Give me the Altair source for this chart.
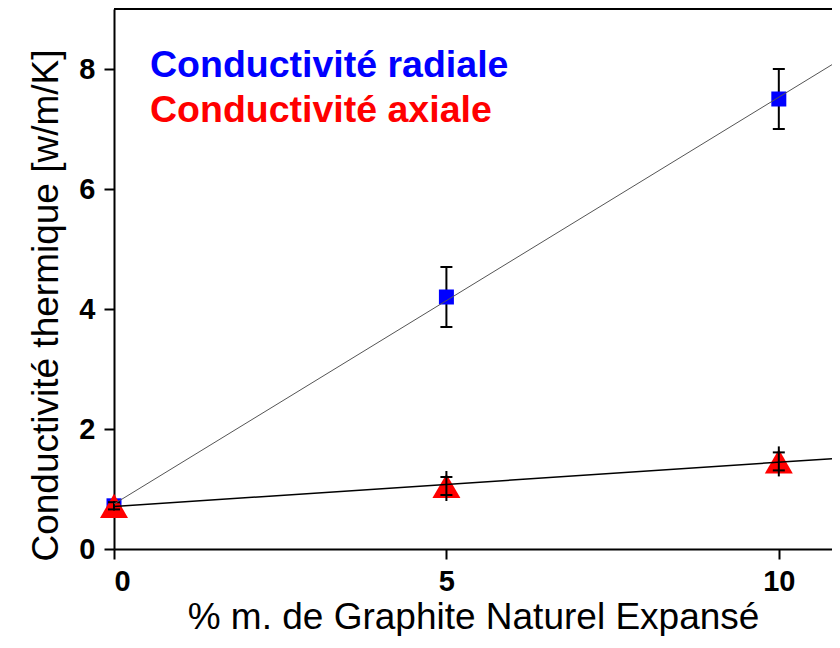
import altair as alt
import pandas as pd

# ---- data ----
x_vals = [0, 5, 10]
radial_y = [0.72, 4.2, 7.5]
radial_err = [0.05, 0.5, 0.5]
axial_y = [0.72, 1.05, 1.46]
axial_err_line = [0.08, 0.25, 0.25]
axial_err_cap = [0.06, 0.15, 0.15]

legend_labels = ["Conductivité radiale", "Conductivité axiale"]
legend_colors = ["#0000FF", "#FF0000"]

x_ticks = [0, 5, 10]
y_ticks = [0, 2, 4, 6, 8]
x_domain = [0, 10.8]
y_domain = [0, 9]
x_title = "% m. de Graphite Naturel Expansé"
y_title = "Conductivité thermique [w/m/K]"

FONT = "Liberation Sans"
W, H = 718, 540

rad = pd.DataFrame({
    "x": x_vals,
    "y": radial_y,
    "lo": [v - e for v, e in zip(radial_y, radial_err)],
    "hi": [v + e for v, e in zip(radial_y, radial_err)],
})
axi = pd.DataFrame({
    "x": x_vals,
    "y": axial_y,
    "lo": [v - e for v, e in zip(axial_y, axial_err_line)],
    "hi": [v + e for v, e in zip(axial_y, axial_err_line)],
    "clo": [v - e for v, e in zip(axial_y, axial_err_cap)],
    "chi": [v + e for v, e in zip(axial_y, axial_err_cap)],
})

xs = alt.Scale(domain=x_domain, nice=False, zero=False)
ys = alt.Scale(domain=y_domain, nice=False, zero=False)

x_axis = alt.Axis(values=x_ticks, title=x_title, grid=False, format="d",
                  titleY=79, titleBaseline="alphabetic", labelPadding=8)
y_axis = alt.Axis(values=y_ticks, title=y_title, grid=False, format="d",
                  titleX=-57, titleY=296, titleAlign="center",
                  titleBaseline="alphabetic", titleAngle=270, labelPadding=9)

X = lambda f: alt.X(f, type="quantitative", scale=xs, axis=x_axis, title=x_title)
Y = lambda f: alt.Y(f, type="quantitative", scale=ys, axis=y_axis, title=y_title)

tick_kw = dict(orient="horizontal", size=12, thickness=2, color="black", opacity=1)

# radial error bars
rad_rule = alt.Chart(rad).mark_rule(color="black", strokeWidth=2).encode(
    x=X("x"), y=Y("lo"), y2="hi:Q")
rad_cap_lo = alt.Chart(rad).mark_tick(**tick_kw).encode(x=X("x"), y=Y("lo"))
rad_cap_hi = alt.Chart(rad).mark_tick(**tick_kw).encode(x=X("x"), y=Y("hi"))
rad_pts = alt.Chart(rad).mark_point(shape="square", filled=True, size=225,
                                    color="#0000FF", opacity=1).encode(x=X("x"), y=Y("y"))

# axial
axi_pts = alt.Chart(axi).mark_point(shape="triangle-up", filled=True, size=784,
                                    color="#FF0000", opacity=1).encode(x=X("x"), y=Y("y"))
axi_rule = alt.Chart(axi).mark_rule(color="black", strokeWidth=2).encode(
    x=X("x"), y=Y("lo"), y2="hi:Q")
axi_cap_lo = alt.Chart(axi).mark_tick(**tick_kw).encode(x=X("x"), y=Y("clo"))
axi_cap_hi = alt.Chart(axi).mark_tick(**tick_kw).encode(x=X("x"), y=Y("chi"))

# fit lines (linear regression through the points)
rad_fit = alt.Chart(rad).transform_regression("x", "y", extent=x_domain).mark_line(
    color="#555555", strokeWidth=1, clip=True).encode(x=X("x"), y=Y("y"))
axi_fit = alt.Chart(axi).transform_regression("x", "y", extent=x_domain).mark_line(
    color="black", strokeWidth=1.5, clip=True).encode(x=X("x"), y=Y("y"))

# top frame line
frame = alt.Chart(pd.DataFrame({"k": [0]})).mark_rule(color="black", strokeWidth=2).encode(
    x=alt.value(0), x2=alt.value(W), y=alt.value(0))

# legend (coloured text)
legend_layers = []
for i, (lab, col) in enumerate(zip(legend_labels, legend_colors)):
    legend_layers.append(
        alt.Chart(pd.DataFrame({"t": [lab]})).mark_text(
            font=FONT, fontSize=37.5, fontWeight="bold", color=col,
            align="left", baseline="alphabetic",
        ).encode(text="t:N", x=alt.value(36), y=alt.value(68 + 45 * i))
    )

chart = alt.layer(
    rad_rule, rad_cap_lo, rad_cap_hi, rad_pts,
    axi_pts, axi_rule, axi_cap_lo, axi_cap_hi,
    rad_fit, axi_fit, frame, *legend_layers,
).properties(
    width=W, height=H,
    padding={"left": 106, "top": 1, "right": 0, "bottom": 87},
    autosize=alt.AutoSizeParams(type="none"),
    background="white",
).configure_view(stroke=None).configure_axis(
    domainColor="black", domainWidth=2,
    tickColor="black", tickWidth=2, tickSize=10,
    labelFont=FONT, labelFontSize=29, labelFontWeight="bold", labelColor="black",
    titleFont=FONT, titleFontSize=37, titleFontWeight="normal", titleColor="black",
)

chart.save("out.html", embed_options={"renderer": "svg", "actions": False})
